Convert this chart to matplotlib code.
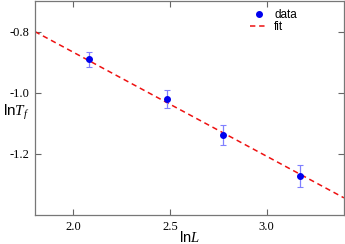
import matplotlib
matplotlib.use("Agg")
import matplotlib.pyplot as plt
import numpy as np

lnL = [2.081, 2.485, 2.772, 3.175]
lnTf = [-0.891, -1.021, -1.138, -1.273]
err = [0.024, 0.030, 0.033, 0.036]
fit_slope = -0.34
fit_intercept = -0.188
xticks = [2.0, 2.5, 3.0]
yticks = [-0.8, -1.0, -1.2]

plt.rcParams['mathtext.fontset'] = 'custom'
plt.rcParams['mathtext.it'] = 'Liberation Serif:italic'
plt.rcParams['mathtext.rm'] = 'Liberation Serif'

fig = plt.figure(figsize=(3.45, 2.44), dpi=100)
ax = fig.add_axes([0.101, 0.119, 0.896, 0.877])

xf = np.array([1.8, 3.4])
ax.plot(xf, fit_intercept + fit_slope * xf, ls=(0, (3.5, 2.5)), color='#ee1111', lw=1.1, label='fit', zorder=2)
ax.errorbar(lnL, lnTf, yerr=err, fmt='none', ecolor='#8080ff', elinewidth=0.9, capsize=2.5, capthick=0.8, zorder=3)
ax.plot(lnL, lnTf, 'o', color='#0000ee', ms=4, label='data', zorder=4, ls='none')

ax.set_xlim(1.8, 3.4)
ax.set_ylim(-1.4, -0.7)
ax.set_xticks(xticks)
ax.set_yticks(yticks)
ax.set_xticklabels([f"{v:.1f}" for v in xticks], family='Liberation Serif', fontsize=9)
ax.set_yticklabels([f"{v:.1f}" for v in yticks], family='Liberation Serif', fontsize=9)
ax.tick_params(direction='in', length=4, width=0.8, colors='#666666', labelcolor='black', top=True, right=True, pad=4)
for s in ax.spines.values():
    s.set_color('#777777')
    s.set_linewidth(0.9)

ax.set_xlabel('ln$L$', family='Liberation Sans', fontsize=10.5, va='baseline')
ax.xaxis.set_label_coords(0.5, -0.125)
ax.set_ylabel('ln$T_f$', family='Liberation Sans', fontsize=11, rotation=0, ha='center', va='center')
ax.yaxis.set_label_coords(-0.06, 0.48)

h, l = ax.get_legend_handles_labels()
leg = ax.legend(h[::-1], l[::-1], loc='upper right', bbox_to_anchor=(0.875, 1.0), frameon=False,
                prop={'family': 'Liberation Sans', 'size': 8.5}, handlelength=1.6, handletextpad=0.5,
                labelspacing=0.0, borderaxespad=0.3)

fig.savefig('out.png', dpi=100)
